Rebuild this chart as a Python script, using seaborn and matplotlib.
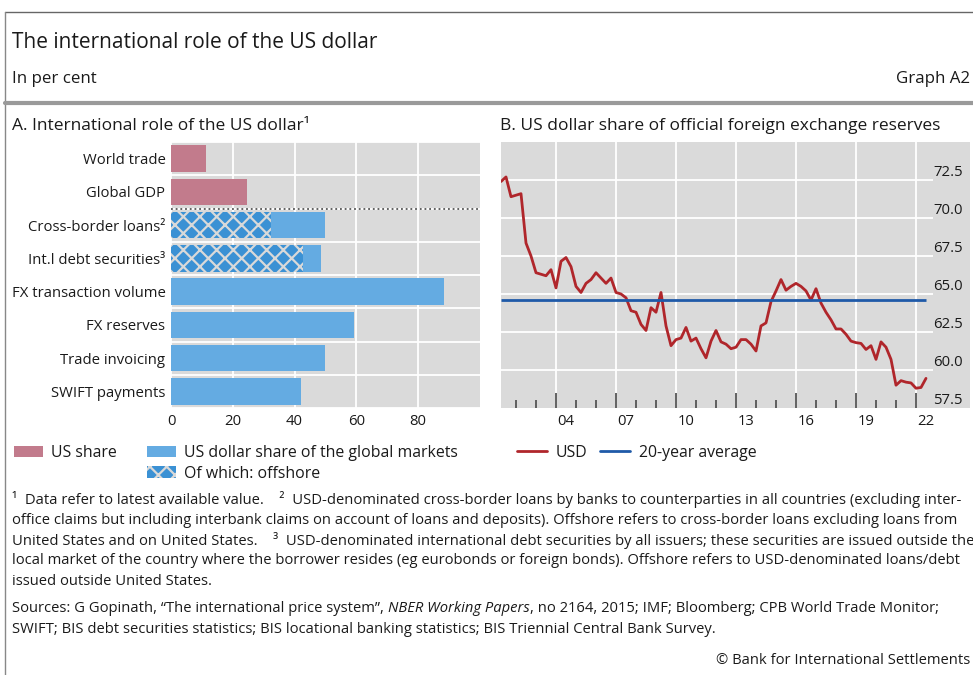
import numpy as np
import pandas as pd
import matplotlib
matplotlib.use('Agg')
import matplotlib.pyplot as plt
import seaborn as sns
from matplotlib.patches import Patch
from matplotlib.lines import Line2D

sns.set_theme(style='dark')
plt.rcParams['font.family'] = ['Open Sans', 'DejaVu Sans']
plt.rcParams['hatch.linewidth'] = 1.6
plt.rcParams['hatch.color'] = '#d9d9d9'

# ---- panel A data (in per cent)
categories = ['World trade', 'Global GDP', 'Cross-border loans²', 'Int.l debt securities³',
              'FX transaction volume', 'FX reserves', 'Trade invoicing', 'SWIFT payments']
groups = ['US share', 'US share', 'Global', 'Global', 'Global', 'Global', 'Global', 'Global']
shares = [11.3, 24.5, 49.8, 48.6, 88.4, 59.3, 49.8, 42.0]
offshore_cats = ['Cross-border loans²', 'Int.l debt securities³']
offshore = [32.3, 42.8]

# ---- panel B data: USD share of official FX reserves, quarterly from 2001Q2
usd_share = [72.4, 72.7, 71.4, 71.5, 71.6, 68.35, 67.5, 66.4, 66.3, 66.2,
             66.6, 65.4, 67.15, 67.4, 66.8, 65.5, 65.1, 65.7, 65.95, 66.4,
             66.05, 65.7, 66.05, 65.1, 65.0, 64.75, 63.9, 63.8, 63.0, 62.6,
             64.1, 63.8, 65.1, 62.9, 61.6, 62.0, 62.1, 62.8, 61.9, 62.1,
             61.4, 60.8, 61.9, 62.6, 61.85, 61.7, 61.4, 61.5, 62.0, 62.0,
             61.7, 61.25, 62.9, 63.1, 64.5, 65.2, 65.95, 65.25, 65.5, 65.7,
             65.5, 65.2, 64.6, 65.35, 64.4, 63.8, 63.3, 62.7, 62.7, 62.35,
             61.9, 61.8, 61.75, 61.35, 61.6, 60.7, 61.85, 61.5, 60.7, 59.0,
             59.3, 59.2, 59.15, 58.8, 58.85, 59.45]
avg_20y = 64.6
year_labels = ['04', '07', '10', '13', '16', '19', '22']

quarters = pd.period_range('2001Q2', periods=len(usd_share), freq='Q')
df_b = pd.DataFrame({'t': quarters.year + (quarters.quarter - 1) / 4, 'USD': usd_share})
df_a = pd.DataFrame({'category': categories, 'group': groups, 'share': shares})

pink = '#c27b8c'
blue = '#64abe2'
hatch_blue = '#3b91d4'
red = '#b0262b'
avg_blue = '#1f5aa8'
grey_bg = '#dadada'
txt = '#1a1a1a'
FS_TICK = 10.7
FS_LEG = 11.4
FS_NOTE = 10.6

fig = plt.figure(figsize=(9.73, 6.75), dpi=100)
W, H = 973, 675
axA = fig.add_axes([171 / W, 1 - 408 / H, 309 / W, 266 / H])
axB = fig.add_axes([501 / W, 1 - 408 / H, 469 / W, 266 / H])

# ---- panel A
sns.barplot(data=df_a, x='share', y='category', hue='group', order=categories,
            palette={'US share': pink, 'Global': blue}, dodge=False, saturation=1,
            width=0.8, orient='h', errorbar=None, legend=False, ax=axA)
n_before = len(axA.patches)
sns.barplot(x=offshore, y=offshore_cats, order=categories, color=hatch_blue,
            saturation=1, width=0.8, orient='h', errorbar=None, ax=axA)
for p in axA.patches[n_before:]:
    p.set_hatch('xx')
    p.set_edgecolor('#d9d9d9')
    p.set_linewidth(0)
for p in axA.patches[:n_before]:
    p.set_linewidth(0)

axA.set_facecolor(grey_bg)
axA.set_xlim(0, 100)
axA.set_xticks([0, 20, 40, 60, 80])
axA.set_yticks(np.arange(-0.5, len(categories), 1), minor=True)
axA.grid(axis='x', which='major', color='white', lw=1.3)
axA.grid(axis='y', which='minor', color='white', lw=1.3)
axA.set_axisbelow(True)
axA.axhline(1.5, color='#555555', lw=1.3, ls=(0, (1, 1.6)))
axA.set_xlabel('')
axA.set_ylabel('')
axA.tick_params(axis='both', which='both', length=0, labelsize=FS_TICK, colors=txt)
axA.tick_params(axis='y', pad=4)
axA.tick_params(axis='x', pad=4)
for s in axA.spines.values():
    s.set_visible(False)

# ---- panel B
sns.lineplot(data=df_b, x='t', y='USD', color=red, lw=2, ax=axB)
axB.hlines(avg_20y, df_b['t'].iloc[0], df_b['t'].iloc[-1], color=avg_blue, lw=2, zorder=3)
axB.set_facecolor(grey_bg)
axB.set_xlim(df_b['t'].iloc[0], 2024.7)
axB.set_ylim(57.5, 75)
yt = np.arange(57.5, 73, 2.5)
axB.hlines(yt[1:], df_b['t'].iloc[0], 2022.85, color='white', lw=1.3, zorder=0.5)
major_years = [2000 + int(y) for y in year_labels]
axB.vlines(major_years, 57.5, 75, color='white', lw=1.3, zorder=0.5)
xtr = axB.get_xaxis_transform()
axB.vlines(major_years, 0, 0.057, color='#555555', lw=1.3, transform=xtr)
minor_years = [y for y in range(2002, 2023) if y not in major_years]
axB.vlines(minor_years, 0, 0.03, color='#555555', lw=1.3, transform=xtr)
axB.set_xticks([y + 0.5 for y in major_years])
axB.set_xticklabels(year_labels)
axB.yaxis.tick_right()
axB.set_yticks(yt)
axB.set_yticklabels([f'{v:.1f}' for v in yt])
for lbl in axB.get_yticklabels():
    lbl.set_verticalalignment('bottom')
axB.tick_params(axis='both', length=0, labelsize=FS_TICK, colors=txt)
axB.tick_params(axis='y', pad=-26.5)
axB.tick_params(axis='x', pad=4)
axB.set_xlabel('')
axB.set_ylabel('')
axB.grid(False)
for s in axB.spines.values():
    s.set_visible(False)

# ---- frame lines
fig.add_artist(Line2D([5 / W, 1], [1 - 12 / H] * 2, color='#666666', lw=1))
fig.add_artist(Line2D([5 / W] * 2, [0, 1 - 12 / H], color='#888888', lw=1))
fig.add_artist(Line2D([5 / W, 1], [1 - 103 / H] * 2, color='#9a9a9a', lw=3))

# ---- headings
fig.text(12 / W, 1 - 42 / H, 'The international role of the US dollar', fontsize=15,
         color=txt, va='center')
fig.text(12 / W, 1 - 79 / H, 'In per cent', fontsize=12.2, color=txt, va='center')
fig.text(970 / W, 1 - 79 / H, 'Graph A2', fontsize=12.2, color=txt, va='center', ha='right')
fig.text(12 / W, 1 - 126 / H, 'A. International role of the US dollar¹', fontsize=12.5,
         color=txt, va='center')
fig.text(500 / W, 1 - 126 / H, 'B. US dollar share of official foreign exchange reserves',
         fontsize=12.5, color=txt, va='center')

# ---- legends
hA = [Patch(facecolor=pink, lw=0), Patch(facecolor='none', edgecolor='none'),
      Patch(facecolor=blue, lw=0),
      Patch(facecolor=hatch_blue, edgecolor='#d9d9d9', hatch='xx', lw=0)]
lA = ['US share', '', 'US dollar share of the global markets', 'Of which: offshore']
fig.legend(hA, lA, ncol=2, loc='upper left', bbox_to_anchor=(14 / W, 1 - 445 / H),
           frameon=False, fontsize=FS_LEG, handlelength=1.8, handleheight=0.75,
           handletextpad=0.55, columnspacing=1.9, labelspacing=0.3,
           borderpad=0, borderaxespad=0, labelcolor=txt)
hB = [Line2D([], [], color=red, lw=2), Line2D([], [], color=avg_blue, lw=2)]
fig.legend(hB, ['USD', '20-year average'], ncol=2, loc='upper left',
           bbox_to_anchor=(517 / W, 1 - 445 / H), frameon=False, fontsize=FS_LEG,
           handlelength=1.9, handletextpad=0.55, columnspacing=0.8,
           borderpad=0, borderaxespad=0, labelcolor=txt)

# ---- footnotes
notes = [
    '¹  Data refer to latest available value.    ²  USD-denominated cross-border loans by banks to counterparties in all countries (excluding inter-',
    'office claims but including interbank claims on account of loans and deposits). Offshore refers to cross-border loans excluding loans from',
    'United States and on United States.    ³  USD-denominated international debt securities by all issuers; these securities are issued outside the',
    'local market of the country where the borrower resides (eg eurobonds or foreign bonds). Offshore refers to USD-denominated loans/debt',
    'issued outside United States.',
]
for i, line in enumerate(notes):
    fig.text(12 / W, 1 - (500 + 20.3 * i) / H, line, fontsize=FS_NOTE, color=txt, va='center')

renderer = fig.canvas.get_renderer()
y_src = 1 - 609 / H
t1 = fig.text(12 / W, y_src, 'Sources: G Gopinath, “The international price system”, ',
              fontsize=FS_NOTE, color=txt, va='center')
x1 = t1.get_window_extent(renderer).x1 / W
t2 = fig.text(x1, y_src, 'NBER Working Papers', fontsize=FS_NOTE, color=txt, va='center',
              style='italic')
x2 = t2.get_window_extent(renderer).x1 / W
fig.text(x2, y_src, ', no 2164, 2015; IMF; Bloomberg; CPB World Trade Monitor;',
         fontsize=FS_NOTE, color=txt, va='center')
fig.text(12 / W, 1 - 629.5 / H,
         'SWIFT; BIS debt securities statistics; BIS locational banking statistics; BIS Triennial Central Bank Survey.',
         fontsize=FS_NOTE, color=txt, va='center')
fig.text(970 / W, 1 - 661 / H, '© Bank for International Settlements', fontsize=FS_NOTE,
         color=txt, va='center', ha='right')

fig.savefig('out.png', dpi=100, facecolor='white')
